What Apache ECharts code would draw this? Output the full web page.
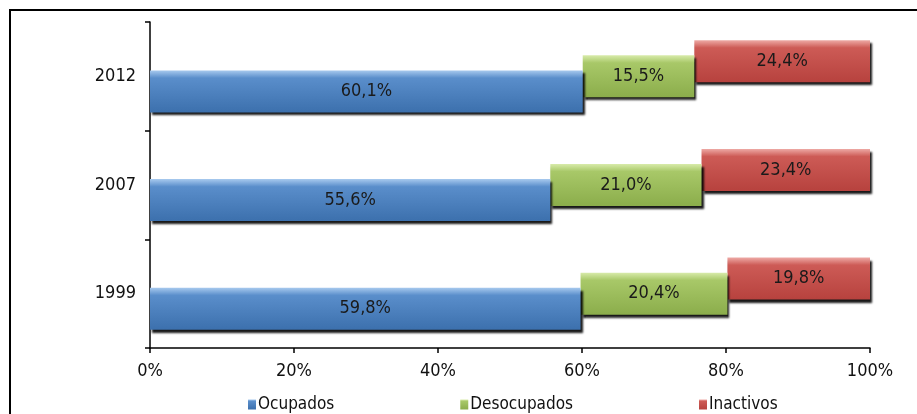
<!DOCTYPE html>
<html><head><meta charset="utf-8">
<script src="https://cdn.jsdelivr.net/npm/echarts@6/dist/echarts.min.js"></script>
<style>html,body{margin:0;padding:0;background:#fff}#c{width:917px;height:414px}</style>
</head><body><div id="c"></div>
<script>
const years = ['1999', '2007', '2012'];
const ocupados = [59.8, 55.6, 60.1];
const desocupados = [20.4, 21.0, 15.5];
const inactivos = [19.8, 23.4, 24.4];
const xTicks = [0, 20, 40, 60, 80, 100];

const FONT = "'Liberation Sans Narrow','DejaVu Sans Condensed','Open Sans',sans-serif";
const grad = (a, b, c) => ({type:'linear',x:0,y:0,x2:0,y2:1,colorStops:[{offset:0,color:a},{offset:0.18,color:b},{offset:1,color:c}]});
const fmt = p => p.value.toFixed(1).replace('.', ',') + '%';
const baseB = ocupados.slice();
const baseC = ocupados.map((v, i) => v + desocupados[i]);

const BW = 42, GAP = '-64%';
const shadow = {shadowColor:'rgba(0,0,0,0.9)', shadowOffsetX:2, shadowOffsetY:3, shadowBlur:2};
const lbl = {show:true, position:'inside', color:'#1a1a1a', fontSize:18, fontFamily:FONT, formatter:fmt};
const ph = (name, data, stack) => ({name, type:'bar', stack, data, barWidth:BW, barGap:GAP,
  itemStyle:{color:'rgba(0,0,0,0)'}, silent:true, label:{show:false}});

const chart = echarts.init(document.getElementById('c'));
chart.setOption({
  animation:false,
  backgroundColor:'#fff',
  textStyle:{fontFamily:FONT},
  graphic:[{type:'rect', shape:{x:10,y:10,width:930,height:430}, style:{fill:'none', stroke:'#000', lineWidth:2}, z:-1}],
  grid:{left:150, right:47, top:22, bottom:66},
  legend:{data:['Ocupados','Desocupados','Inactivos'], left:243, top:391, itemGap:126,
    itemWidth:8, itemHeight:10, icon:'rect', textStyle:{fontSize:17, color:'#111', fontFamily:FONT, padding:[0,0,0,-3]}},
  xAxis:{type:'value', min:0, max:100, interval:20,
    axisLine:{show:true, lineStyle:{color:'#000', width:1.5}},
    axisTick:{show:true, length:5, lineStyle:{color:'#000', width:1.5}},
    splitLine:{show:false},
    axisLabel:{formatter:v => v + '%', fontSize:18, color:'#111', margin:14, fontFamily:FONT}},
  yAxis:{type:'category', data:years,
    axisLine:{show:true, lineStyle:{color:'#000', width:1.5}},
    axisTick:{show:true, length:5, lineStyle:{color:'#000', width:1.5}},
    axisLabel:{fontSize:18, color:'#111', margin:14, fontFamily:FONT}},
  series:[
    ph('_c', baseC, 'c'),
    {name:'Inactivos', type:'bar', stack:'c', data:inactivos, barWidth:BW, barGap:GAP,
      itemStyle:Object.assign({color:grad('#eeaaa6','#cd5b56','#b7423e')}, shadow), label:lbl},
    ph('_b', baseB, 'b'),
    {name:'Desocupados', type:'bar', stack:'b', data:desocupados, barWidth:BW, barGap:GAP,
      itemStyle:Object.assign({color:grad('#d8ebaa','#a8c868','#8bad4b')}, shadow), label:lbl},
    {name:'Ocupados', type:'bar', stack:'a', data:ocupados, barWidth:BW, barGap:GAP,
      itemStyle:Object.assign({color:grad('#a7c9ee','#5a8ecb','#3c70ad')}, shadow), label:lbl}
  ]
});
</script></body></html>
